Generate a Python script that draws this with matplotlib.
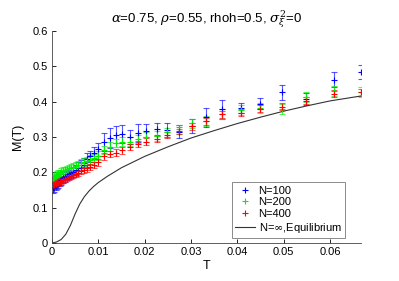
# Magnetization vs temperature, finite N vs equilibrium
import numpy as np
import matplotlib
matplotlib.use("Agg")
import matplotlib.pyplot as plt
from matplotlib.colors import to_rgba

plt.rcParams['font.family'] = ['Liberation Sans', 'DejaVu Sans']
plt.rcParams['mathtext.fontset'] = 'dejavuserif'

# Data
T = [0.0002, 0.0005, 0.0008, 0.0011, 0.0014, 0.0017, 0.0020, 0.0024, 0.0028, 0.0032,
     0.0036, 0.0041, 0.0046, 0.0051, 0.0057, 0.0063, 0.0069, 0.0076, 0.0083, 0.0091,
     0.0100, 0.0113, 0.0126, 0.0139, 0.0152, 0.0168, 0.0185, 0.0204, 0.0226, 0.0248,
     0.0275, 0.0302, 0.0333, 0.0367, 0.0409, 0.0448, 0.0496, 0.0548, 0.0609, 0.0667]

M_100 = [0.155, 0.158, 0.162, 0.166, 0.170, 0.174, 0.178, 0.183, 0.187, 0.190,
         0.194, 0.197, 0.202, 0.207, 0.213, 0.220, 0.226, 0.238, 0.245, 0.255,
         0.265, 0.286, 0.297, 0.306, 0.309, 0.301, 0.312, 0.318, 0.322, 0.320,
         0.315, 0.330, 0.356, 0.378, 0.383, 0.394, 0.426, 0.408, 0.462, 0.484]
E_100 = [0.013, 0.013, 0.013, 0.013, 0.013, 0.013, 0.013, 0.013, 0.013, 0.013,
         0.014, 0.014, 0.014, 0.014, 0.015, 0.015, 0.015, 0.016, 0.016, 0.017,
         0.018, 0.026, 0.028, 0.024, 0.025, 0.020, 0.025, 0.018, 0.017, 0.019,
         0.018, 0.020, 0.027, 0.026, 0.014, 0.016, 0.020, 0.017, 0.021, 0.020]

M_200 = [0.185, 0.187, 0.190, 0.193, 0.196, 0.198, 0.201, 0.204, 0.206, 0.209,
         0.211, 0.213, 0.216, 0.219, 0.222, 0.226, 0.229, 0.232, 0.236, 0.241,
         0.247, 0.263, 0.273, 0.283, 0.287, 0.287, 0.294, 0.300, 0.303, 0.313,
         0.322, 0.339, 0.346, 0.366, 0.377, 0.382, 0.380, 0.413, 0.429, 0.428]
E_200 = [0.010, 0.010, 0.010, 0.010, 0.010, 0.010, 0.010, 0.010, 0.010, 0.010,
         0.010, 0.010, 0.011, 0.011, 0.011, 0.011, 0.011, 0.011, 0.012, 0.012,
         0.012, 0.012, 0.012, 0.012, 0.012, 0.012, 0.012, 0.013, 0.013, 0.013,
         0.013, 0.013, 0.014, 0.014, 0.014, 0.014, 0.014, 0.014, 0.014, 0.014]

M_400 = [0.163, 0.165, 0.167, 0.169, 0.171, 0.173, 0.175, 0.178, 0.181, 0.184,
         0.186, 0.189, 0.192, 0.195, 0.199, 0.203, 0.207, 0.211, 0.215, 0.221,
         0.228, 0.245, 0.252, 0.256, 0.262, 0.271, 0.280, 0.287, 0.294, 0.306,
         0.318, 0.330, 0.344, 0.364, 0.368, 0.380, 0.385, 0.403, 0.422, 0.426]
E_400 = [0.009, 0.009, 0.009, 0.009, 0.009, 0.009, 0.009, 0.009, 0.009, 0.009,
         0.009, 0.009, 0.009, 0.009, 0.009, 0.009, 0.009, 0.009, 0.009, 0.009,
         0.009, 0.009, 0.009, 0.009, 0.009, 0.009, 0.009, 0.009, 0.009, 0.009,
         0.009, 0.009, 0.010, 0.010, 0.010, 0.010, 0.010, 0.010, 0.010, 0.010]

T_eq = [0, 0.001, 0.002, 0.003, 0.004, 0.005, 0.006, 0.007, 0.008, 0.009, 0.010, 0.012,
        0.015, 0.020, 0.025, 0.030, 0.035, 0.040, 0.045, 0.050, 0.055, 0.060, 0.0667]
M_eq = [0, 0.003, 0.010, 0.025, 0.050, 0.082, 0.110, 0.131, 0.147, 0.160, 0.171, 0.189,
        0.213, 0.245, 0.272, 0.297, 0.318, 0.338, 0.356, 0.373, 0.388, 0.402, 0.416]

series = [(M_100, E_100, '#0000ff', 'N=100'),
          (M_200, E_200, '#00ee00', 'N=200'),
          (M_400, E_400, '#ff0000', 'N=400')]

fig = plt.figure(figsize=(3.99, 2.81), dpi=100)
ax = fig.add_axes([0.130, 0.135, 0.775, 0.755])

handles = []
for M, E, c, lab in series:
    ax.errorbar(T, M, yerr=E, fmt='+', color=c, ecolor=to_rgba(c, 0.65), ms=4, mew=0.8,
                elinewidth=0.8, capsize=2.5, capthick=0.8)
    h, = ax.plot([], [], '+', color=c, ms=4, mew=0.8, label=lab)
    handles.append(h)

h_eq, = ax.plot(T_eq, M_eq, color='#333333', lw=0.8, label='N=$\\infty$,Equilibrium')
handles.append(h_eq)

ax.set_xlim(0, 0.0667)
ax.set_ylim(0, 0.6)
ax.set_xticks([0, 0.01, 0.02, 0.03, 0.04, 0.05, 0.06])
ax.set_xticklabels(['0', '0.01', '0.02', '0.03', '0.04', '0.05', '0.06'])
ax.set_yticks([0, 0.1, 0.2, 0.3, 0.4, 0.5, 0.6])
ax.set_yticklabels(['0', '0.1', '0.2', '0.3', '0.4', '0.5', '0.6'])
ax.tick_params(direction='in', length=3, width=0.6, labelsize=8, pad=3)
for s in ['top', 'right']:
    ax.spines[s].set_visible(False)
for s in ['left', 'bottom']:
    ax.spines[s].set_linewidth(0.6)
    ax.spines[s].set_color('#444444')

ax.set_xlabel('T', fontsize=9, labelpad=2)
ax.set_ylabel('M(T)', fontsize=9, labelpad=6)
ax.set_title('$\\alpha$=0.75, $\\rho$=0.55, rhoh=0.5, $\\sigma_\\xi^2$=0', fontsize=9.5, pad=6)

leg = ax.legend(handles=handles, loc='lower right', bbox_to_anchor=(0.948, 0.024),
                fontsize=8, frameon=True, fancybox=False, handlelength=1.8,
                handletextpad=0.3, borderpad=0.3, labelspacing=0.15, borderaxespad=0)
leg.get_frame().set_edgecolor('#555555')
leg.get_frame().set_linewidth(0.6)

fig.savefig('out.png', dpi=100)
